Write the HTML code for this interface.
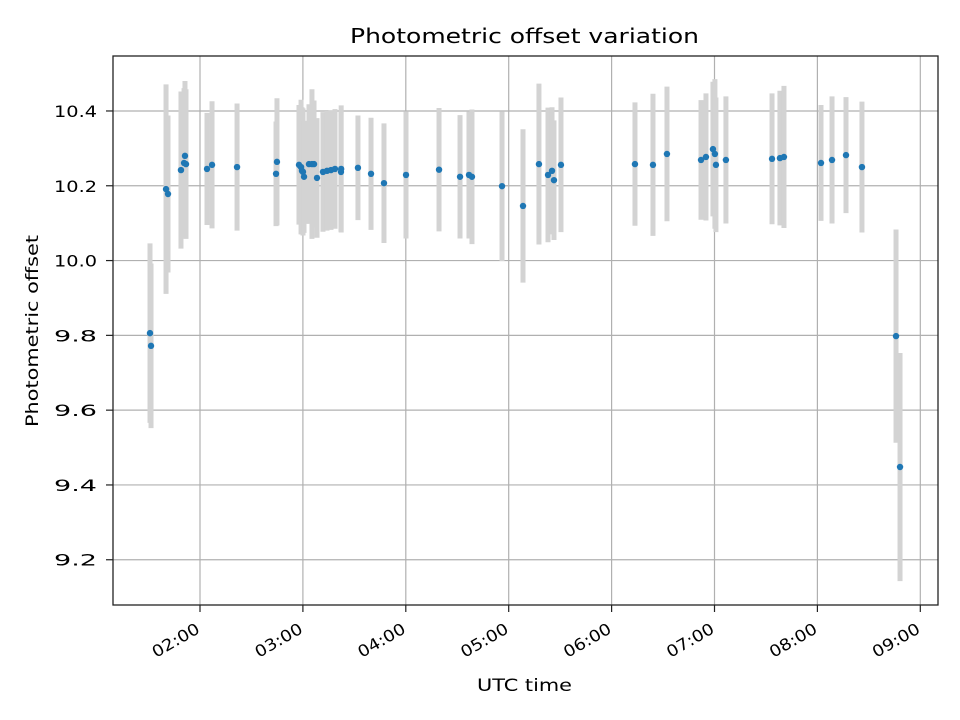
<!DOCTYPE html>
<html><head><meta charset="utf-8"><style>
html,body{margin:0;padding:0;background:#fff;}
svg{display:block;font-family:"DejaVu Sans","Liberation Sans",sans-serif;}
</style></head>
<body>
<svg id="chart" width="960" height="720"></svg>
<script>
const times = [1.514,1.524,1.670,1.689,1.815,1.845,1.854,1.864,2.068,2.117,2.360,2.739,2.748,2.962,2.982,2.991,3.001,3.011,3.059,3.088,3.108,3.137,3.195,3.234,3.273,3.312,3.370,3.372,3.535,3.662,3.788,4.002,4.323,4.527,4.614,4.643,4.935,5.139,5.294,5.382,5.421,5.440,5.508,6.227,6.402,6.538,6.869,6.917,6.985,7.004,7.014,7.111,7.559,7.636,7.675,8.035,8.142,8.278,8.433,8.764,8.803];
const offsets = [9.806,9.772,10.191,10.178,10.242,10.261,10.280,10.258,10.245,10.256,10.250,10.232,10.264,10.256,10.250,10.240,10.237,10.224,10.258,10.258,10.258,10.221,10.237,10.240,10.242,10.245,10.237,10.245,10.248,10.232,10.207,10.229,10.243,10.224,10.229,10.224,10.199,10.146,10.258,10.229,10.240,10.215,10.256,10.258,10.256,10.285,10.269,10.277,10.298,10.285,10.256,10.269,10.272,10.274,10.277,10.261,10.269,10.282,10.250,9.798,9.448];
const errors = [0.24,0.22,0.28,0.21,0.21,0.2,0.2,0.2,0.15,0.17,0.17,0.14,0.17,0.16,0.18,0.17,0.17,0.15,0.16,0.2,0.17,0.16,0.16,0.16,0.16,0.16,0.16,0.17,0.14,0.15,0.16,0.17,0.165,0.165,0.17,0.18,0.2,0.205,0.215,0.18,0.17,0.16,0.18,0.165,0.19,0.18,0.16,0.17,0.18,0.2,0.18,0.17,0.175,0.18,0.19,0.155,0.17,0.155,0.175,0.285,0.305];
const yTicks = [9.2,9.4,9.6,9.8,10.0,10.2,10.4];
const xTicks = [2,3,4,5,6,7,8,9];
const xTickLabels = ["02:00","03:00","04:00","05:00","06:00","07:00","08:00","09:00"];

const L=113,R=938,T=56,B=605;
const xMin=1.1545,xMax=9.172,yMin=9.079,yMax=10.547;
const X=v=>L+(v-xMin)/(xMax-xMin)*(R-L);
const Y=v=>B-(v-yMin)/(yMax-yMin)*(B-T);
const svg=document.getElementById('chart');
const NS='http://www.w3.org/2000/svg';
function mk(tag,attrs,parent){const e=document.createElementNS(NS,tag);for(const k in attrs)e.setAttribute(k,attrs[k]);(parent||svg).appendChild(e);return e;}

const grid=mk('g',{});


yTicks.forEach(t=>{
  const l=mk('line',{x1:L,x2:R,y1:Y(t),y2:Y(t),stroke:'#b0b0b0','stroke-width':1.2},grid);
  
  
});
xTicks.forEach(t=>{
  const l=mk('line',{x1:X(t),x2:X(t),y1:T,y2:B,stroke:'#b0b0b0','stroke-width':1.2},grid);
  
  
});

const eb=mk('g',{});


times.forEach((t,i)=>{
  const l=mk('line',{x1:X(t),x2:X(t),y1:Y(offsets[i]+errors[i]),y2:Y(offsets[i]-errors[i]),stroke:'#d3d3d3','stroke-width':5},eb);
  
  
});
const pts=mk('g',{});


times.forEach((t,i)=>{
  const c=mk('circle',{cx:X(t),cy:Y(offsets[i]),r:3.2,fill:'#1f77b4'},pts);
  
  
});

const frame=mk('rect',{x:L,y:T,width:R-L,height:B-T,fill:'none',stroke:'#222','stroke-width':1.3});



yTicks.forEach(t=>{
  mk('line',{x1:L-7,x2:L,y1:Y(t),y2:Y(t),stroke:'#222','stroke-width':1.2});
  const tx=mk('text',{x:L-16,y:Y(t)+6,'text-anchor':'end','font-size':16,textLength:43,lengthAdjust:'spacingAndGlyphs'});
  tx.textContent=t.toFixed(1);
  
  
});
xTicks.forEach((t,i)=>{
  mk('line',{x1:X(t),x2:X(t),y1:B,y2:B+7,stroke:'#222','stroke-width':1.2});
  const tx=mk('text',{x:X(t)+1,y:B+27,'text-anchor':'end','font-size':16,textLength:52,lengthAdjust:'spacingAndGlyphs',transform:`rotate(-30 ${X(t)+1} ${B+27})`});
  tx.textContent=xTickLabels[i];
  
  
});

const title=mk('text',{x:524.5,y:43,'text-anchor':'middle','font-size':20,textLength:349,lengthAdjust:'spacingAndGlyphs'});
title.textContent='Photometric offset variation';


const xl=mk('text',{x:524.5,y:691,'text-anchor':'middle','font-size':17,textLength:95,lengthAdjust:'spacingAndGlyphs'});
xl.textContent='UTC time';


const yl=mk('text',{x:38,y:331,'text-anchor':'middle','font-size':17,textLength:192,lengthAdjust:'spacingAndGlyphs',transform:'rotate(-90 38 331)'});
yl.textContent='Photometric offset';


</script>
</body></html>
